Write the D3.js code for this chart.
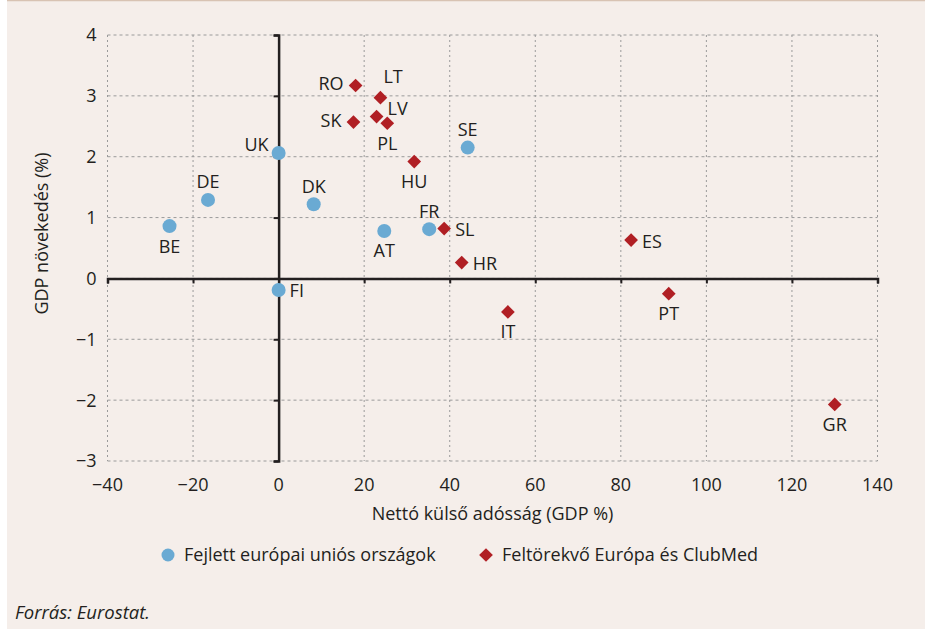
<!DOCTYPE html>
<html>
<head>
<meta charset="utf-8">
<script src="https://cdn.jsdelivr.net/npm/d3@7"></script>
<style>
  body { margin: 0; background: #fff; }
  svg { display: block; }
  text { font-family: "Open Sans", sans-serif; fill: #231f20; }
</style>
</head>
<body>
<div id="chart"></div>
<script>
// data
var advancedNames = ["UK", "DE", "BE", "DK", "FI", "AT", "FR", "SE"];
var advancedDebt  = [0, -16.5, -25.5, 8.2, 0, 24.7, 35.2, 44.2];
var advancedGdp   = [2.06, 1.29, 0.86, 1.22, -0.19, 0.78, 0.81, 2.15];

var emergingNames = ["RO", "LT", "SK", "LV", "PL", "HU", "SL", "HR", "ES", "PT", "IT", "GR"];
var emergingDebt  = [18.0, 23.8, 17.5, 22.9, 25.4, 31.7, 38.7, 42.8, 82.4, 91.2, 53.6, 130.0];
var emergingGdp   = [3.17, 2.97, 2.57, 2.66, 2.55, 1.92, 0.82, 0.26, 0.63, -0.25, -0.55, -2.07];

// where each country label sits next to its marker
var advancedPlace = ["upleft", "above", "below", "above", "right", "below", "above", "above"];
var emergingPlace = ["left", "upright", "left", "rightup", "below", "below", "right", "right", "right", "below", "below", "below"];

var xTicks = [-40, -20, 0, 20, 40, 60, 80, 100, 120, 140];
var yTicks = [-3, -2, -1, 0, 1, 2, 3, 4];

var seriesNames = ["Fejlett európai uniós országok", "Feltörekvő Európa és ClubMed"];

var svgWidth = 925;
var svgHeight = 629;
var margin = { top: 35, right: 47.5, bottom: 168, left: 107.5 };
var width = svgWidth - margin.left - margin.right;
var height = svgHeight - margin.top - margin.bottom;

var blue = "#6aaad3";
var red = "#b01f24";
var fontSize = "18px";

var svg = d3.select("#chart").append("svg")
    .attr("width", svgWidth)
    .attr("height", svgHeight);

// panel background
svg.append("rect")
    .attr("x", 7).attr("y", 0)
    .attr("width", svgWidth - 7).attr("height", svgHeight)
    .attr("fill", "#f5eeea");
svg.append("line")
    .attr("x1", 7).attr("x2", svgWidth).attr("y1", 0.5).attr("y2", 0.5)
    .attr("stroke", "#d8c3b3").attr("stroke-width", 1.5);

var chartGroup = svg.append("g")
    .attr("transform", `translate(${margin.left}, ${margin.top})`);

var x = d3.scaleLinear().domain([-40, 140]).range([0, width]);
var y = d3.scaleLinear().domain([-3, 4]).range([height, 0]);

// dotted grid
chartGroup.append("g").selectAll("line")
    .data(xTicks)
    .enter().append("line")
    .attr("x1", d => x(d)).attr("x2", d => x(d))
    .attr("y1", 0).attr("y2", height)
    .attr("stroke", "#9a9a9a").attr("stroke-width", 1)
    .attr("stroke-dasharray", "2,3");
chartGroup.append("g").selectAll("line")
    .data(yTicks)
    .enter().append("line")
    .attr("x1", 0).attr("x2", width)
    .attr("y1", d => y(d)).attr("y2", d => y(d))
    .attr("stroke", "#9a9a9a").attr("stroke-width", 1)
    .attr("stroke-dasharray", "3,3");

// axes through zero
var xAxis = chartGroup.append("g")
    .attr("transform", `translate(0, ${y(0)})`)
    .call(d3.axisBottom(x).tickValues(xTicks).tickSize(5).tickFormat(""));
var yAxis = chartGroup.append("g")
    .attr("transform", `translate(${x(0)}, 0)`)
    .call(d3.axisLeft(y).tickValues(yTicks).tickSize(5).tickFormat(""));
[xAxis, yAxis].forEach(function (a) {
    a.select(".domain").attr("stroke", "#231f20").attr("stroke-width", 2.5);
    a.selectAll(".tick line").attr("stroke", "#231f20").attr("stroke-width", 2);
});

// tick labels along the plot edges
var fmt = function (d) { return d < 0 ? "\u2212" + Math.abs(d) : String(d); };
chartGroup.append("g").selectAll("text")
    .data(xTicks)
    .enter().append("text")
    .attr("x", d => x(d))
    .attr("y", height + 30)
    .attr("text-anchor", "middle")
    .style("font-size", fontSize)
    .text(fmt);
chartGroup.append("g").selectAll("text")
    .data(yTicks)
    .enter().append("text")
    .attr("x", -11)
    .attr("y", d => y(d))
    .attr("dy", "0.36em")
    .attr("text-anchor", "end")
    .style("font-size", fontSize)
    .text(fmt);

// axis titles
chartGroup.append("text")
    .attr("x", width / 2)
    .attr("y", height + 59)
    .attr("text-anchor", "middle")
    .style("font-size", fontSize)
    .text("Nettó külső adósság (GDP %)");
chartGroup.append("text")
    .attr("transform", "rotate(-90)")
    .attr("x", -198.5)
    .attr("y", -59.5)
    .attr("text-anchor", "middle")
    .style("font-size", fontSize)
    .text("GDP növekedés (%)");

function labelPos(place) {
    switch (place) {
        case "above": return { dx: 0, dy: -18, anchor: "middle" };
        case "below": return { dx: 0, dy: 20, anchor: "middle" };
        case "left": return { dx: -12, dy: -2, anchor: "end" };
        case "right": return { dx: 11, dy: 1, anchor: "start" };
        case "upleft": return { dx: -10, dy: -9, anchor: "end" };
        case "upright": return { dx: 3, dy: -21, anchor: "start" };
        case "rightup": return { dx: 11, dy: -8, anchor: "start" };
    }
}

var advanced = advancedNames.map(function (n, i) {
    return { name: n, debt: advancedDebt[i], gdp: advancedGdp[i], place: advancedPlace[i] };
});
var emerging = emergingNames.map(function (n, i) {
    return { name: n, debt: emergingDebt[i], gdp: emergingGdp[i], place: emergingPlace[i] };
});

chartGroup.append("g").selectAll("circle")
    .data(advanced)
    .enter().append("circle")
    .attr("cx", d => x(d.debt))
    .attr("cy", d => y(d.gdp))
    .attr("r", 7)
    .attr("fill", blue);

var diamond = d3.symbol().type(d3.symbolDiamond2).size(120);
chartGroup.append("g").selectAll("path")
    .data(emerging)
    .enter().append("path")
    .attr("transform", d => `translate(${x(d.debt)}, ${y(d.gdp)})`)
    .attr("d", diamond)
    .attr("fill", red);

chartGroup.append("g").selectAll("text")
    .data(advanced.concat(emerging))
    .enter().append("text")
    .each(function (d) {
        var p = labelPos(d.place);
        d3.select(this)
            .attr("x", x(d.debt) + p.dx)
            .attr("y", y(d.gdp) + p.dy)
            .attr("dy", "0.36em")
            .attr("text-anchor", p.anchor);
    })
    .style("font-size", fontSize)
    .text(d => d.name);

// legend
var legend = svg.append("g").attr("transform", "translate(0, 555)");
legend.append("circle").attr("cx", 168).attr("cy", 0).attr("r", 6.5).attr("fill", blue);
legend.append("text").attr("x", 184).attr("dy", "0.36em").style("font-size", fontSize).text(seriesNames[0]);
legend.append("path").attr("transform", "translate(486, 0)").attr("d", diamond).attr("fill", red);
legend.append("text").attr("x", 502).attr("dy", "0.36em").style("font-size", fontSize).text(seriesNames[1]);

// source
svg.append("text")
    .attr("x", 15).attr("y", 619)
    .style("font-size", "18.5px")
    .style("font-style", "italic")
    .text("Forrás: Eurostat.");
</script>
</body>
</html>
